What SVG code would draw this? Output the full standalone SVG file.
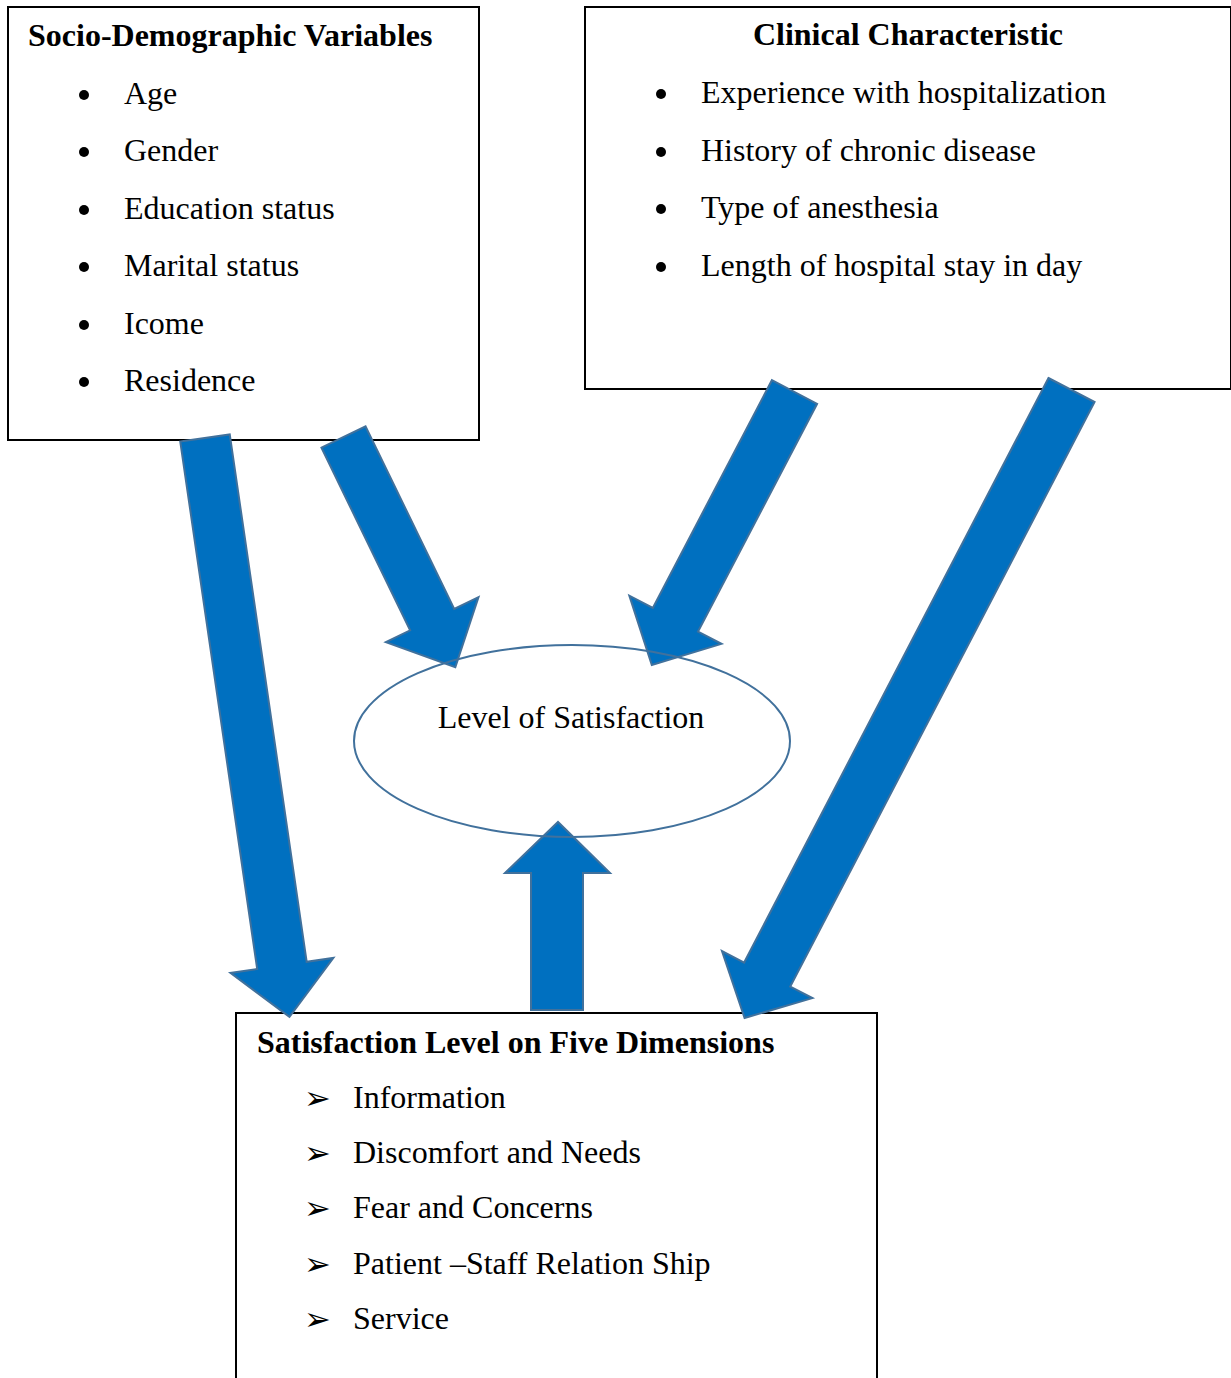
<svg xmlns="http://www.w3.org/2000/svg" width="1231" height="1378" viewBox="0 0 1231 1378">
<style>
.box{fill:#fff;stroke:#000;stroke-width:2}
.t{font-family:"Liberation Serif","Times New Roman",serif;font-size:32px;fill:#000}
.b{font-weight:bold}
.bul{font-family:"DejaVu Sans",sans-serif;font-size:32px;fill:#000}
.arr{fill:#0070C0;stroke:#41719C;stroke-width:2;stroke-linejoin:miter}
.ell{fill:none;stroke:#41719C;stroke-width:2}
</style>
<rect width="1231" height="1378" fill="#fff"/>
<g id="socio">
<rect class="box" x="8" y="7" width="471" height="433"/>
<text class="t b" x="28" y="46">Socio-Demographic Variables</text>
<g class="t">
<circle cx="84" cy="95" r="5"/><text x="124" y="104">Age</text>
<circle cx="84" cy="152" r="5"/><text x="124" y="161">Gender</text>
<circle cx="84" cy="210" r="5"/><text x="124" y="219">Education status</text>
<circle cx="84" cy="267" r="5"/><text x="124" y="276">Marital status</text>
<circle cx="84" cy="325" r="5"/><text x="124" y="334">Icome</text>
<circle cx="84" cy="382" r="5"/><text x="124" y="391">Residence</text>
</g>
</g>
<g id="clinical">
<rect class="box" x="585" y="7" width="646" height="382"/>
<text class="t b" x="908" y="45" text-anchor="middle">Clinical Characteristic</text>
<g class="t">
<circle cx="661" cy="94" r="5"/><text x="701" y="103">Experience with hospitalization</text>
<circle cx="661" cy="152" r="5"/><text x="701" y="161">History of chronic disease</text>
<circle cx="661" cy="209" r="5"/><text x="701" y="218">Type of anesthesia</text>
<circle cx="661" cy="267" r="5"/><text x="701" y="276">Length of hospital stay in day</text>
</g>
</g>
<g id="dimensions">
<rect class="box" x="236" y="1013" width="641" height="400"/>
<text class="t b" x="257" y="1053">Satisfaction Level on Five Dimensions</text>
<g class="t">
<text class="bul" x="304" y="1109">➢</text><text x="353" y="1108">Information</text>
<text class="bul" x="304" y="1164">➢</text><text x="353" y="1163">Discomfort and Needs</text>
<text class="bul" x="304" y="1219">➢</text><text x="353" y="1218">Fear and Concerns</text>
<text class="bul" x="304" y="1275">➢</text><text x="353" y="1274">Patient –Staff Relation Ship</text>
<text class="bul" x="304" y="1330">➢</text><text x="353" y="1329">Service</text>
</g>
</g>
<g id="connectors">
<polygon class="arr" transform="translate(205,438) rotate(-8.3)" points="-25,0 25,0 25,533 52,533 0,585 -52,533 -25,533"/>
<polygon class="arr" transform="translate(343.5,437) rotate(-25.9)" points="-24.5,0 24.5,0 24.5,203 51.5,203 0,256 -51.5,203 -24.5,203"/>
<polygon class="arr" transform="translate(794.5,392) rotate(27.6)" points="-25.5,0 25.5,0 25.5,257 52,257 0,308 -52,257 -25.5,257"/>
<polygon class="arr" transform="translate(1071.5,390) rotate(27.5)" points="-26,0 26,0 26,659 51,659 0,708 -51,659 -26,659"/>
<polygon class="arr" points="531,1010 583,1010 583,873 610,873 558,822 505,873 531,873"/>
</g>
<g id="satisfaction">
<ellipse class="ell" cx="572" cy="741" rx="218" ry="96"/>
<text class="t" x="571" y="728" text-anchor="middle">Level of Satisfaction</text>
</g>
</svg>
